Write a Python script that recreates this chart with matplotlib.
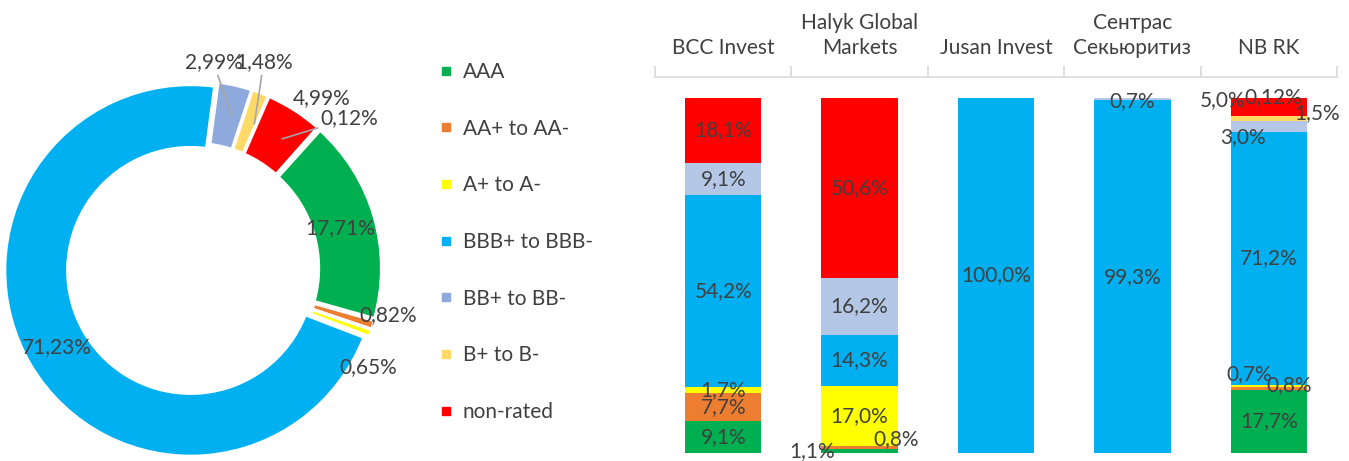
import numpy as np
import matplotlib
matplotlib.use("Agg")
import matplotlib.pyplot as plt
from matplotlib.lines import Line2D

plt.rcParams['font.family'] = ['Lato', 'DejaVu Sans']

# Kategorien (Ratings)
kategorien = ["AAA", "AA+ to AA-", "A+ to A-", "BBB+ to BBB-", "BB+ to BB-", "B+ to B-", "non-rated", "other"]
farben_ring = ["#00B050", "#ED7D31", "#FFFF00", "#00B0F0", "#8EA9DB", "#FFD966", "#FF0000", "#595959"]
farben_balken = ["#00B050", "#ED7D31", "#FFFF00", "#00B0F0", "#B4C7E7", "#FFD966", "#FF0000", "#595959"]

# Donut-Werte in %
ring_werte = [17.71, 0.82, 0.65, 71.23, 2.99, 1.48, 4.99, 0.12]
ring_texte = ["17,71%", "0,82%", "0,65%", "71,23%", "2,99%", "1,48%", "4,99%", "0,12%"]

# Gestapelte Balken
firmen = ["BCC Invest", "Halyk Global\nMarkets", "Jusan Invest", "Сентрас\nСекьюритиз", "NB RK"]
aaa = [9.1, 1.1, 0.0, 0.0, 17.7]
aa = [7.7, 0.8, 0.0, 0.0, 0.8]
a = [1.7, 17.0, 0.0, 0.0, 0.7]
bbb = [54.2, 14.3, 100.0, 99.3, 71.2]
bb = [9.1, 16.2, 0.0, 0.7, 3.0]
b = [0.0, 0.0, 0.0, 0.0, 1.5]
nonrated = [18.1, 50.6, 0.0, 0.0, 5.0]
other = [0.0, 0.0, 0.0, 0.0, 0.12]
balken_serien = [aaa, aa, a, bbb, bb, b, nonrated, other]

textfarbe = "#404040"
fs = 15

fig = plt.figure(figsize=(13.49, 4.61), dpi=100)
W, H = 1349, 461

# ---------- Donut ----------
r_px = 186
cx, cy = 193, 269
half = 1.1 * r_px
ax1 = fig.add_axes([(cx - half) / W, (H - cy - half) / H, 2 * half / W, 2 * half / H])
wedges, _ = ax1.pie(ring_werte, colors=farben_ring, startangle=48, counterclock=False,
                    radius=1.0, explode=[0.015] * len(ring_werte),
                    wedgeprops=dict(width=0.34, edgecolor="white", linewidth=2.5))
ax1.set_xlim(-1.1, 1.1)
ax1.set_ylim(-1.1, 1.1)
ax1.set_aspect("equal")
ax1.axis("off")

# Label-Positionen (in Radius-Einheiten) und ggf. Ziel der Hilfslinie
ring_pos = [(0.79, 0.22), (1.05, -0.25), (0.94, -0.53), (-0.73, -0.42),
            (0.11, 1.11), (0.38, 1.11), (0.69, 0.92), (0.84, 0.81)]
ring_linie = [None, None, None, None, (0.21, 0.82), (0.33, 0.78), None, (0.48, 0.70)]
for txt, pos, ziel in zip(ring_texte, ring_pos, ring_linie):
    if ziel is None:
        ax1.text(pos[0], pos[1], txt, ha="center", va="center", fontsize=fs, color=textfarbe)
    else:
        ax1.annotate(txt, xy=ziel, xytext=pos, ha="center", va="center", fontsize=fs,
                     color=textfarbe,
                     arrowprops=dict(arrowstyle="-", color="#A6A6A6", lw=1.2,
                                     shrinkA=0, shrinkB=0))

# ---------- Legende ----------
handles = [Line2D([0], [0], marker="s", linestyle="none", markersize=6,
                  markerfacecolor=c, markeredgecolor=c) for c in farben_ring[:7]]
fig.legend(handles, kategorien[:7], loc="upper left",
           bbox_to_anchor=(440 / W, 1 - 62 / H), frameon=False, fontsize=fs,
           labelcolor=textfarbe, labelspacing=1.76, handlelength=0.6,
           handletextpad=0.5, borderpad=0, borderaxespad=0)

# ---------- Gestapelte Balken ----------
ax2 = fig.add_axes([655 / W, 8 / H, 682 / W, 376 / H])
x = np.arange(len(firmen))
unten = np.zeros(len(firmen))
# Versatz kleiner Beschriftungen in Pixeln: (Balken, Serie) -> (dx, dy)
versatz = {(1, 0): (-48, 0), (1, 1): (37, 9),
           (4, 1): (20, 4), (4, 2): (-20, 12), (4, 4): (-26, -10),
           (4, 5): (48, 6), (4, 6): (-46, 7), (4, 7): (4, 1),
           (3, 4): (0, -2)}
for si, (serie, farbe) in enumerate(zip(balken_serien, farben_balken)):
    werte = np.array(serie)
    ax2.bar(x, werte, bottom=unten, width=0.56, color=farbe, edgecolor="none")
    for bi, w in enumerate(werte):
        if w <= 0:
            continue
        if si == 7:
            txt = ("%.2f%%" % w).replace(".", ",")
        else:
            txt = ("%.1f%%" % w).replace(".", ",")
        dx, dy = versatz.get((bi, si), (0, 0))
        ax2.annotate(txt, xy=(x[bi], unten[bi] + w / 2), xytext=(dx, dy),
                     textcoords="offset pixels", ha="center", va="center",
                     fontsize=fs, color=textfarbe, annotation_clip=False)
    unten += werte

ax2.set_xlim(-0.5, len(firmen) - 0.5)
ax2.set_ylim(0, 105.9)
ax2.xaxis.set_ticks_position("top")
ax2.xaxis.set_label_position("top")
ax2.set_xticks(np.arange(-0.5, len(firmen)), labels=[""] * (len(firmen) + 1))
ax2.set_xticks(x, labels=firmen, minor=True)
ax2.tick_params(axis="x", which="major", length=8, color="#D9D9D9", width=1.2)
ax2.tick_params(axis="x", which="minor", length=0, pad=14, labelsize=fs, labelcolor=textfarbe)
for lab in ax2.get_xticklabels(minor=True):
    lab.set_linespacing(1.3)
ax2.set_yticks([])
for s in ["left", "right", "bottom"]:
    ax2.spines[s].set_visible(False)
ax2.spines["top"].set_color("#D9D9D9")
ax2.spines["top"].set_linewidth(1.2)

fig.savefig("out.png", dpi=100)
